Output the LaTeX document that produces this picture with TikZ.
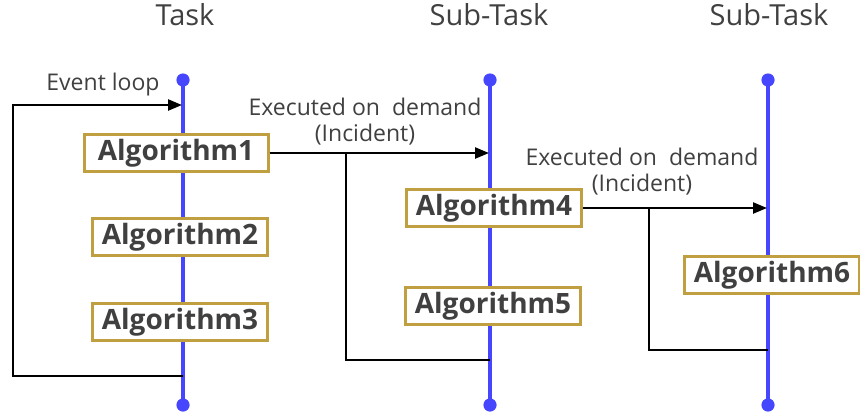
\documentclass[tikz,border=0pt]{standalone}
\usepackage{fontspec}
\setmainfont{Open Sans}
\usetikzlibrary{arrows.meta}
\definecolor{laneblue}{HTML}{4646FF}
\definecolor{boxgold}{HTML}{BF9F3F}
\definecolor{textgrey}{HTML}{404040}

\begin{document}
\begin{tikzpicture}[x=0.5pt,y=-0.5pt,
    algo/.style={draw=boxgold,line width=1.5pt,fill=white,text=textgrey,
      font=\fontsize{14}{16}\selectfont\bfseries,
      minimum width=87.5pt,minimum height=18.5pt,inner sep=0pt},
    tasktitle/.style={text=textgrey,font=\fontsize{14.5}{16}\selectfont},
    lbl/.style={text=textgrey,align=center,font=\fontsize{11.5}{13}\selectfont},
    lane/.style={draw=laneblue,line width=2pt},
    flow/.style={draw=black,line width=1.2pt},
    call/.style={flow,-{Triangle[length=7pt,width=5.5pt]}}]
    \useasboundingbox (0,0) rectangle (860,414);

    %Lanes
    \foreach \name/\x in {task/183,subA/490,subB/768}{
      \coordinate (\name-top) at (\x,80);
      \coordinate (\name-bot) at (\x,405);
      \draw[lane] (\name-top) -- (\name-bot);
      \fill[laneblue] (\name-top) circle (3.3pt);
      \fill[laneblue] (\name-bot) circle (3.3pt);
    }
    \node[tasktitle] (tasklabel) at (185,15) {Task};
    \node[tasktitle] (subAlabel) at (489,15) {Sub-Task};
    \node[tasktitle] (subBlabel) at (769,15) {Sub-Task};

    %Task
    \node[algo,minimum width=92pt] (alg1) at (176,153) {Algorithm1};
    \node[algo] (alg2) at (180,237) {Algorithm2};
    \node[algo] (alg3) at (180,322) {Algorithm3};
    %Sub-Task
    \node[algo] (alg4) at (494,208) {Algorithm4};
    \node[algo] (alg5) at (493,306) {Algorithm5};
    %Sub-Task
    \node[algo] (alg6) at (772,275) {Algorithm6};

    %Event loop
    \coordinate (loopin) at (182,105);
    \coordinate (loopout) at (183,376);
    \draw[call] (loopout) -- ++(-170,0) |- (loopin);
    \node[lbl] (looplabel) at (103,85) {Event loop};

    %Incident calls
    \draw[call] (alg1.east) -- ([xshift=-0.5pt]alg1.east -| subA-top);
    \node[lbl] (callA) at (365,122) {Executed on~ demand\\(Incident)};
    \coordinate (forkA) at (346,153);
    \coordinate (backA) at (490,360);
    \draw[flow] (forkA) |- (backA);

    \draw[call] (alg4.east) -- ([xshift=-0.5pt]alg4.east -| subB-top);
    \node[lbl] (callB) at (642,172) {Executed on~ demand\\(Incident)};
    \coordinate (forkB) at (649,208);
    \coordinate (backB) at (768,350);
    \draw[flow] (forkB) |- (backB);
\end{tikzpicture}
\end{document}
